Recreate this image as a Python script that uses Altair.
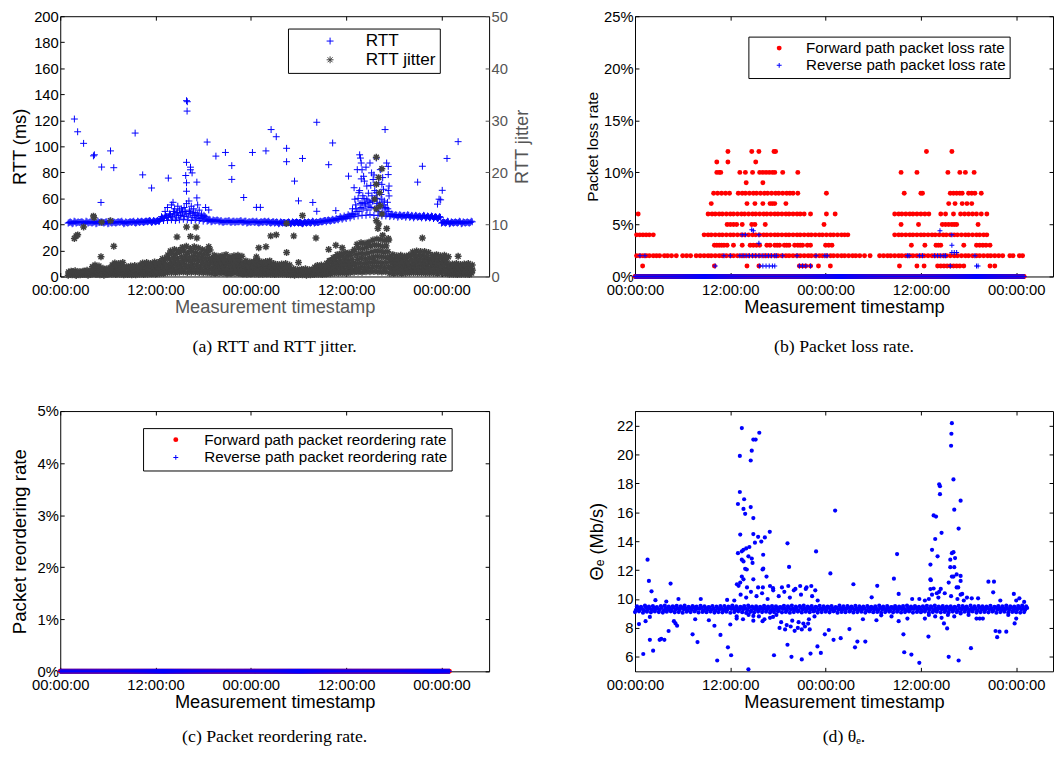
import numpy as np
import pandas as pd
import altair as alt

SANS = "Liberation Sans"
SERIF = "Liberation Serif"
BLUE = "#0000ff"
RED = "#ff0000"
DARK = "#404040"
AXGRAY = "#555555"

TICK_HOURS = [0, 12, 24, 36, 48]
TICK_LABELS = ["00:00:00", "12:00:00", "00:00:00", "12:00:00", "00:00:00"]
X_TITLE = "Measurement timestamp"

# ---------------- (a) RTT and RTT jitter (samples every 0.5 h, interleaved rows) ----------------
RTT_LO = [41, 40.5, 41, 41.5, 40.5, 41, 41, 40.5, 41.5, 41, 40.5, 41, 41, 41.5, 40.5, 41, 41.5, 41,
          41.5, 41.5, 42, 41.5, 42,
          42.5, 43, 43, 43.5, 43, 43.5, 44, 43.5, 43, 43.5, 43, 42.5,
          42.5, 42, 42.5,
          42, 41.5, 42, 41.5, 41.5, 42, 41.5, 41, 41.5, 41.5, 41, 41.5, 41.5, 41,
          41, 40.5, 41, 41, 40.5, 41, 41, 40.5, 41, 41, 41, 41.5,
          42, 42, 42.5, 43,
          43.5, 44, 44.5, 45,
          46, 46.5, 47, 47, 47.5, 47, 47, 46.5, 46.5,
          46, 46, 45.5, 46, 45.5, 45.5, 45, 45.5, 45, 45, 45, 44.5, 44.5,
          41, 41, 40.5, 41, 41, 40.5, 41, 41]
RTT_MA = [41.5, 41, 41.5, 42, 41, 41.5, 41.5, 41, 42, 41.5, 41, 41.5, 41.5, 42, 41, 41.5, 42, 41.5,
          42, 42, 42.5, 42, 42.5,
          44, 45, 45.5, 46, 45, 47, 46, 46.5, 45.5, 45, 44.5, 44,
          43, 42.5, 43,
          42.5, 42, 42.5, 42, 42, 42.5, 42, 41.5, 42, 42, 41.5, 42, 42, 41.5,
          41.5, 41, 41.5, 41.5, 41, 41.5, 41.5, 41, 41.5, 41.5, 41.5, 42,
          42.5, 43, 43, 43.5,
          44.5, 45, 46, 46.5,
          48, 50, 52, 51, 53, 52, 50, 49, 48,
          47, 47, 46.5, 46.5, 46.5, 46, 46, 46, 46, 45.5, 45.5, 45.5, 45,
          41.5, 41.5, 41, 41.5, 41.5, 41, 41.5, 41.5]
RTT_HI = [42, 42.5, 42, 42, 42.5, 42, 42, 42.5, 42, 42, 42.5, 42, 42, 42.5, 42, 42, 42.5, 42.5,
          42.5, 42.5, 43, 43, 43,
          46, 47, 48, 50, 49, 52, 50, 51, 49, 48, 47, 46,
          44, 43.5, 43.5,
          43, 42.5, 43, 42.5, 42.5, 43, 42.5, 42, 42.5, 42.5, 42, 42.5, 42.5, 42,
          42, 42, 41.5, 42, 42, 42, 41.5, 42, 42, 42.5, 42, 42.5,
          43, 43.5, 44, 44.5,
          46, 46.5, 47.5, 48.5,
          52, 56, 60, 58, 62, 60, 57, 55, 52,
          48, 47.5, 47.5, 47, 47.5, 47, 47, 46.5, 47, 46.5, 46.5, 46, 46,
          42, 42.5, 42, 42, 42.5, 42, 42, 42.5]
RTT_MB = [41.5, 42, 41.5, 41.5, 42, 41.5, 42, 41.5, 41.5, 42, 41.5, 41.5, 42, 41.5, 41.5, 42, 41.5, 42,
          42, 42.5, 42.5, 42.5, 42.5,
          45, 46, 47, 48, 47, 49, 48, 48.5, 47, 46.5, 45.5, 45,
          43.5, 43, 43,
          42, 42.5, 42, 42.5, 42, 42, 42.5, 42, 42, 41.5, 42, 42, 41.5, 42,
          41.5, 41.5, 41, 41.5, 41.5, 41.5, 41, 41.5, 41.5, 42, 41.5, 42,
          43, 43, 43.5, 44,
          45, 45.5, 46.5, 47.5,
          50, 53, 56, 54, 58, 56, 54, 52, 50,
          47.5, 47, 47, 47, 47, 46.5, 46.5, 46, 46.5, 46, 46, 45.5, 45.5,
          41.5, 42, 41.5, 41.5, 42, 41.5, 41.5, 42]
RTT_BUMP = [(13.2, 50), (13.5, 53), (13.8, 48), (14.0, 55), (14.2, 57), (14.4, 52), (14.6, 49),
            (14.8, 54), (15.0, 51), (15.2, 47), (15.4, 50), (15.6, 53), (15.9, 56), (16.2, 58),
            (16.3, 50), (16.5, 54), (16.8, 52), (17.0, 49), (17.3, 55), (17.5, 51), (17.8, 48),
            (18.1, 47), (18.3, 53),
            (37.0, 68.2), (37.1, 59.4), (37.4, 82.1), (37.7, 93.5), (37.8, 91), (37.9, 87.2),
            (38.0, 82), (38.2, 77), (38.3, 73.3), (38.6, 69.5), (39.0, 87.2), (39.2, 79.6),
            (39.4, 74.5), (39.8, 91), (40.3, 82.1), (40.5, 70.8), (40.7, 67), (40.9, 112.9),
            (41.1, 87.2), (41.3, 84.6), (41.3, 78.3), (41.4, 69.5), (41.4, 61.9), (40.5, 59.4),
            (38.6, 59.4), (37.6, 64.4), (38.0, 56.9), (39.0, 56.9), (39.8, 64.4),
            (36.8, 52), (37.2, 55), (37.5, 60), (37.7, 66), (38.1, 62), (38.4, 55), (38.8, 64),
            (39.1, 70), (39.3, 58), (39.6, 66), (39.9, 60), (40.2, 55), (40.4, 63), (40.8, 58),
            (41.0, 53), (41.2, 57), (37.9, 75), (38.5, 84), (39.5, 78), (40.1, 72), (40.6, 76),
            (41.3, 66)]
RTT_OUT = [(1.78, 121.0), (2.19, 111.2), (2.94, 102.3), (4.18, 92.7), (4.30, 93.5), (5.13, 56.9),
           (5.21, 84.1), (6.33, 96.5), (6.74, 83.6), (9.43, 110.2), (10.38, 78.1), (11.5, 68.0),
           (13.61, 75.6), (15.9, 135.1), (16.0, 134.3), (15.97, 127.1), (15.9, 87.7), (15.8, 77.6),
           (15.9, 72.0), (15.9, 65.5), (16.4, 82.0), (16.6, 79.6), (16.4, 84.0), (17.2, 72.5),
           (17.2, 60.4), (18.5, 103.3), (18.7, 51.1), (19.6, 92.5), (20.8, 95.3), (21.6, 85.2),
           (21.6, 74.6), (23.1, 60.7), (24.2, 95.3), (24.7, 53.1), (25.2, 53.1), (25.9, 96.5),
           (26.55, 112.9), (27.2, 107.4), (28.5, 98.5), (28.5, 88.2), (29.5, 73.3), (30.0, 58.1),
           (30.5, 90.7), (31.8, 56.9), (32.3, 118.5), (32.3, 50.1), (33.8, 85.9), (34.3, 102.6),
           (34.7, 50.6), (36.3, 77.1), (45.0, 72.5), (45.6, 84.7), (47.5, 55.6), (47.7, 59.4),
           (47.9, 58.9), (48.1, 66.2), (48.7, 90.7), (50.1, 103.6)]

JIT_LO = [0.25, 0.3, 0.2, 0.3, 0.35, 0.25, 0.4, 0.35, 0.3, 0.25, 0.35, 0.4, 0.35, 0.4,
          0.3, 0.35, 0.3, 0.3, 0.4, 0.35, 0.4, 0.45, 0.4, 0.5, 0.55, 0.7, 0.75, 0.7,
          0.8, 0.85, 0.75, 0.8, 0.8, 0.75, 0.7, 0.7, 0.6, 0.55, 0.6, 0.6, 0.5, 0.55, 0.6, 0.55,
          0.45, 0.4, 0.45, 0.45, 0.4, 0.4, 0.45, 0.4, 0.35, 0.4, 0.4, 0.35,
          0.3, 0.25, 0.3, 0.3, 0.25, 0.3, 0.35, 0.4, 0.35,
          0.45, 0.5, 0.6, 0.6, 0.65, 0.6, 0.7, 0.8, 0.85, 0.8, 0.9, 0.9, 0.95, 0.9, 0.85, 0.9,
          0.6, 0.55, 0.6, 0.55, 0.6, 0.65, 0.7, 0.65, 0.65, 0.6, 0.6, 0.6, 0.55, 0.6, 0.55,
          0.4, 0.4, 0.35, 0.4, 0.4, 0.35]
JIT_A = [0.4, 0.45, 0.35, 0.42, 0.5, 0.42, 0.7, 0.62, 0.55, 0.5, 0.58, 0.78, 0.72, 0.8,
         0.6, 0.62, 0.62, 0.6, 0.78, 0.78, 0.75, 0.82, 0.78, 0.95, 1.02, 1.32, 1.4, 1.35,
         1.5, 1.58, 1.42, 1.52, 1.5, 1.4, 1.35, 1.38, 1.15, 1.08, 1.12, 1.15, 1.02, 1.1, 1.15, 1.08,
         0.88, 0.8, 0.85, 0.88, 0.8, 0.82, 0.88, 0.75, 0.7, 0.72, 0.75, 0.68,
         0.52, 0.45, 0.5, 0.52, 0.45, 0.5, 0.65, 0.7, 0.62,
         0.88, 1.0, 1.15, 1.2, 1.25, 1.2, 1.32, 1.6, 1.7, 1.65, 1.75, 1.8, 1.88, 1.82, 1.75, 1.8,
         1.15, 1.1, 1.15, 1.08, 1.15, 1.28, 1.32, 1.28, 1.28, 1.22, 1.15, 1.15, 1.1, 1.15, 1.05,
         0.72, 0.75, 0.68, 0.72, 0.75, 0.65]
JIT_M1 = [0.55, 0.6, 0.5, 0.55, 0.65, 0.6, 1.0, 0.9, 0.8, 0.75, 0.8, 1.15, 1.1, 1.2,
          0.9, 0.9, 0.95, 0.9, 1.15, 1.2, 1.1, 1.2, 1.15, 1.4, 1.5, 1.95, 2.05, 2.0,
          2.2, 2.3, 2.1, 2.25, 2.2, 2.05, 2.0, 2.05, 1.7, 1.6, 1.65, 1.7, 1.55, 1.65, 1.7, 1.6,
          1.3, 1.2, 1.25, 1.3, 1.2, 1.25, 1.3, 1.1, 1.05, 1.05, 1.1, 1.0,
          0.75, 0.65, 0.7, 0.75, 0.65, 0.7, 0.95, 1.0, 0.9,
          1.3, 1.5, 1.7, 1.8, 1.85, 1.8, 1.95, 2.4, 2.55, 2.5, 2.6, 2.7, 2.8, 2.75, 2.65, 2.7,
          1.7, 1.65, 1.7, 1.6, 1.7, 1.9, 1.95, 1.9, 1.9, 1.85, 1.7, 1.7, 1.65, 1.7, 1.55,
          1.05, 1.1, 1.0, 1.05, 1.1, 0.95]
JIT_B = [0.62, 0.68, 0.55, 0.62, 0.72, 0.68, 1.25, 1.15, 0.95, 0.88, 0.98, 1.48, 1.4, 1.52,
         1.1, 1.12, 1.2, 1.1, 1.48, 1.52, 1.4, 1.55, 1.5, 1.85, 1.98, 2.65, 2.8, 2.7,
         3.0, 3.12, 2.88, 3.08, 2.98, 2.8, 2.7, 2.75, 2.25, 2.12, 2.18, 2.28, 2.08, 2.18, 2.25, 2.12,
         1.68, 1.55, 1.62, 1.7, 1.55, 1.62, 1.68, 1.4, 1.3, 1.35, 1.4, 1.25,
         0.88, 0.78, 0.82, 0.88, 0.78, 0.82, 1.2, 1.25, 1.12,
         1.68, 1.98, 2.28, 2.4, 2.5, 2.42, 2.6, 3.3, 3.48, 3.42, 3.55, 3.72, 3.85, 3.8, 3.68, 3.72,
         2.28, 2.18, 2.25, 2.12, 2.25, 2.55, 2.65, 2.58, 2.58, 2.5, 2.25, 2.28, 2.18, 2.25, 2.08,
         1.35, 1.4, 1.28, 1.35, 1.4, 1.22]
JIT_M2 = [0.7, 0.75, 0.6, 0.7, 0.8, 0.75, 1.5, 1.4, 1.1, 1.0, 1.15, 1.8, 1.7, 1.85,
          1.3, 1.35, 1.45, 1.3, 1.8, 1.85, 1.7, 1.9, 1.85, 2.3, 2.45, 3.35, 3.55, 3.4,
          3.8, 3.95, 3.65, 3.9, 3.75, 3.55, 3.4, 3.45, 2.8, 2.65, 2.7, 2.85, 2.6, 2.7, 2.8, 2.65,
          2.05, 1.9, 2.0, 2.1, 1.9, 2.0, 2.05, 1.7, 1.55, 1.65, 1.7, 1.5,
          1.0, 0.9, 0.95, 1.0, 0.9, 0.95, 1.45, 1.5, 1.35,
          2.05, 2.45, 2.85, 3.0, 3.15, 3.05, 3.25, 4.2, 4.4, 4.35, 4.5, 4.75, 4.9, 4.85, 4.7, 4.75,
          2.85, 2.7, 2.8, 2.65, 2.8, 3.2, 3.35, 3.25, 3.25, 3.15, 2.8, 2.85, 2.7, 2.8, 2.6,
          1.65, 1.7, 1.55, 1.65, 1.7, 1.5]
JIT_C = [0.85, 0.92, 0.75, 0.85, 1.0, 0.92, 1.85, 1.7, 1.35, 1.25, 1.42, 2.2, 2.1, 2.28,
         1.6, 1.68, 1.78, 1.6, 2.2, 2.28, 2.1, 2.35, 2.28, 2.85, 3.02, 4.12, 4.38, 4.2,
         4.7, 4.88, 4.52, 4.8, 4.62, 4.38, 4.2, 4.28, 3.45, 3.28, 3.35, 3.52, 3.2, 3.35, 3.45, 3.28,
         2.52, 2.35, 2.45, 2.6, 2.35, 2.45, 2.52, 2.1, 1.92, 2.02, 2.1, 1.85,
         1.25, 1.1, 1.18, 1.25, 1.1, 1.18, 1.78, 1.85, 1.68,
         2.52, 3.02, 3.52, 3.7, 3.88, 3.78, 4.02, 5.2, 5.45, 5.38, 5.55, 5.88, 6.05, 5.98, 5.8, 5.88,
         3.52, 3.35, 3.45, 3.28, 3.45, 3.95, 4.12, 4.02, 4.02, 3.88, 3.45, 3.52, 3.35, 3.45, 3.2,
         2.02, 2.1, 1.92, 2.02, 2.1, 1.85]
JIT_HI = [1.0, 1.1, 0.9, 1.0, 1.2, 1.1, 2.2, 2.0, 1.6, 1.5, 1.7, 2.6, 2.5, 2.7,
          1.9, 2.0, 2.1, 1.9, 2.6, 2.7, 2.5, 2.8, 2.7, 3.4, 3.6, 4.9, 5.2, 5.0,
          5.6, 5.8, 5.4, 5.7, 5.5, 5.2, 5.0, 5.1, 4.1, 3.9, 4.0, 4.2, 3.8, 4.0, 4.1, 3.9,
          3.0, 2.8, 2.9, 3.1, 2.8, 2.9, 3.0, 2.5, 2.3, 2.4, 2.5, 2.2,
          1.5, 1.3, 1.4, 1.5, 1.3, 1.4, 2.1, 2.2, 2.0,
          3.0, 3.6, 4.2, 4.4, 4.6, 4.5, 4.8, 6.2, 6.5, 6.4, 6.6, 7.0, 7.2, 7.1, 6.9, 7.0,
          4.2, 4.0, 4.1, 3.9, 4.1, 4.7, 4.9, 4.8, 4.8, 4.6, 4.1, 4.2, 4.0, 4.1, 3.8,
          2.4, 2.5, 2.3, 2.4, 2.5, 2.2]
JIT_OUT = [(1.78, 7.3), (2.0, 7.8), (2.2, 8.0), (2.94, 9.5), (4.18, 11.6), (4.26, 11.3),
           (5.13, 3.8), (5.21, 10.4), (6.33, 10.7), (6.74, 5.8), (14.7, 7.6), (15.9, 9.5),
           (16.4, 7.7), (17.2, 7.4), (17.1, 9.5), (18.7, 5.7), (24.7, 3.75), (25.0, 5.5),
           (25.9, 5.7), (26.5, 7.8), (27.2, 8.0), (28.5, 4.6), (28.5, 10.2), (29.4, 7.8),
           (30.0, 2.7), (30.5, 11.7), (32.2, 7.4), (33.8, 5.2), (34.7, 6.0), (35.5, 5.5),
           (39.8, 22.9), (40.5, 20.7), (40.1, 19.0), (39.8, 17.7), (40.2, 16.1), (39.6, 14.9),
           (40.3, 13.6), (39.8, 13.0), (40.5, 12.0), (39.8, 10.7), (40.1, 10.1), (40.0, 9.2),
           (41.1, 9.2), (41.3, 7.3), (40.6, 7.9), (45.6, 7.4), (50.1, 3.9)]

# ---------------- (b) packet loss rate (%) ----------------
FWD_1 = [0.96, 10.0, 14.1, 15.6, 20.7, 21.1, 21.5, 22.1, 23.1, 24.6, 33.3, 35.5, 36.4, 38.1,
         38.5, 38.9, 39.3, 39.7, 40.1, 40.5, 40.9, 41.4, 44.7, 45.3]
FWD_2 = [0.2, 0.6, 1.0, 1.4, 1.8, 2.3, 2.7, 3.1, 3.7, 4.1, 4.6, 5.2, 6.0, 6.5, 7.0,
         7.7, 8.2, 8.7, 9.2, 9.6, 10.1, 10.6, 11.0, 11.5, 12.0, 12.4, 12.9, 13.4, 13.8, 14.3,
         14.8, 15.2, 15.7, 16.2, 16.6, 17.1, 17.6, 18.0, 18.5, 19.0, 19.4, 19.9, 20.4, 20.8,
         21.3, 21.8, 22.2, 22.7, 23.2, 23.6, 24.1, 24.6, 25.0, 25.5, 26.0, 26.4, 26.9, 27.4,
         27.8, 28.3, 28.9, 29.6, 30.8, 31.3, 31.8, 32.2, 32.7, 33.2, 33.6, 34.1, 34.6, 35.0,
         35.5, 36.0, 36.4, 36.9, 37.4, 37.8, 38.3, 38.8, 39.2, 39.7, 40.2, 40.6, 41.1, 41.6,
         42.0, 42.5, 43.0, 43.4, 43.9, 44.4, 44.8, 45.3, 45.8, 46.3, 47.2, 47.6, 48.4, 48.8]
FWD_3 = [10.0, 10.3, 10.6, 10.9, 11.2, 11.6, 12.4, 13.5, 14.5, 14.9, 15.3, 15.7, 16.6, 17.0,
         17.6, 17.9, 18.2, 18.8, 19.1, 19.4, 20.1, 20.5, 20.8, 21.1, 21.7, 22.1, 24.0, 24.4,
         24.8, 34.8, 36.5, 37.9, 38.2, 38.5, 41.4, 43.0, 43.4, 43.8, 44.2, 44.7]
FWD_4 = [0.2, 0.6, 1.0, 1.4, 1.8, 2.3, 8.7, 9.2, 9.6, 10.1, 10.6, 11.0, 11.5, 12.0, 12.4, 12.9,
         13.4, 13.8, 14.3, 14.8, 15.2, 15.7, 16.2, 16.6, 17.1, 17.6, 18.0, 18.5, 19.0, 19.4,
         19.9, 20.4, 20.8, 21.3, 21.8, 22.2, 22.7, 23.2, 23.6, 24.1, 24.6, 25.0, 25.5, 26.0,
         26.4, 26.8, 32.7, 33.2, 33.6, 34.1, 34.6, 35.0, 35.5, 36.0, 36.4, 36.9, 37.4, 37.8,
         38.3, 38.8, 39.2, 39.7, 40.2, 40.6, 41.1, 41.6, 42.0, 42.5, 43.0, 43.4, 43.9, 44.3]
FWD_5 = [11.6, 12.0, 12.4, 12.8, 13.5, 14.7, 15.1, 16.4, 23.8, 33.5, 35.7, 38.7, 39.1, 39.5,
         39.9, 40.2, 40.5, 43.2]
FWD_6 = [0.4, 9.2, 9.7, 10.1, 10.6, 11.0, 11.5, 12.0, 12.4, 12.9, 13.4, 13.8, 14.3, 14.8, 15.2,
         15.7, 16.2, 16.6, 17.1, 17.6, 18.0, 18.5, 19.0, 19.4, 19.9, 20.4, 20.8, 21.3, 22.1,
         24.1, 25.2, 32.7, 33.2, 33.6, 34.1, 34.6, 35.0, 35.5, 36.0, 36.5, 37.0, 38.5, 39.1,
         40.1, 41.0, 41.5, 42.0, 42.5, 43.0, 43.6, 44.3]
FWD_7 = [9.6, 14.1, 15.1, 16.1, 17.0, 17.3, 17.6, 19.0, 39.5, 40.3, 41.2, 41.8, 42.4]
FWD_8 = [9.9, 10.4, 10.9, 11.4, 11.9, 13.0, 13.5, 13.9, 14.4, 14.9, 15.3, 15.8, 16.3, 16.7,
         17.2, 17.7, 18.1, 18.6, 19.1, 19.5, 19.9, 20.5, 24.1, 33.9, 36.0, 36.2, 39.7, 40.1,
         40.5, 40.9, 41.2, 42.0, 42.4, 42.8, 43.6]
FWD_9 = [14.0, 16.1]
FWD_10 = [10.3, 10.6, 10.8, 13.2, 13.9, 14.8, 15.7, 16.1, 16.5, 16.9, 17.3, 17.6, 18.6, 20.5,
          33.5, 35.5, 39.4, 40.9, 41.6, 42.7]
FWD_11 = [10.3, 11.7, 15.2]
FWD_12 = [11.7, 14.7, 15.6, 17.5, 17.7, 36.7, 39.9]
REV_NONZERO = [(10.1, 1), (15.7, 1), (16.1, 1), (16.5, 1), (16.9, 1), (17.3, 1), (17.6, 1),
               (20.7, 1), (21.1, 1), (21.5, 1), (22.1, 1), (39.7, 1), (43.0, 1), (43.2, 1),
               (0.63, 2), (1.25, 2), (11.2, 2), (12.0, 2), (13.2, 2), (13.6, 2), (14.0, 2),
               (14.4, 2), (14.8, 2), (15.2, 2), (15.6, 2), (16.0, 2), (16.4, 2), (16.8, 2),
               (17.2, 2), (17.6, 2), (17.8, 2), (18.6, 2), (20.4, 2), (22.8, 2), (23.9, 2),
               (24.2, 2), (34.3, 2), (34.5, 2), (35.8, 2), (36.2, 2), (37.7, 2), (38.1, 2),
               (38.5, 2), (38.9, 2), (39.1, 2), (42.8, 2), (39.9, 2.3), (40.2, 2.3), (40.5, 2.3),
               (15.6, 3.2), (39.9, 3.0), (13.5, 4.0), (13.9, 4.0), (15.6, 4.0), (39.9, 4.0),
               (14.7, 4.5), (14.9, 4.4), (38.4, 4.4)]
LOSS_END_H = 49.0          # last measurement; all other samples are 0 %

# ---------------- (c) packet reordering rate (%) ----------------
REORD_END_H = 49.0         # every reordering sample is 0 %

# ---------------- (d) theta_e (Mb/s), samples every 0.5 h, 4 interleaved rows ----------------
THETA_LO = [9.10, 9.15, 9.05, 9.12, 9.08, 9.14, 9.10, 9.06, 9.12, 9.15, 9.08,
            9.10, 9.05, 9.12, 9.10, 9.14, 9.07, 9.11, 9.09, 9.13, 9.06, 9.10,
            9.08, 9.12, 9.05, 9.10, 9.15, 9.09, 9.04, 9.11, 9.07, 9.13, 9.10,
            9.12, 9.06, 9.10, 9.14, 9.08, 9.11, 9.05, 9.10, 9.13, 9.07, 9.12,
            9.09, 9.14, 9.06, 9.10, 9.12, 9.08, 9.15, 9.05, 9.11, 9.09, 9.13,
            9.07, 9.10, 9.12, 9.06, 9.14, 9.09, 9.11, 9.05, 9.10, 9.13, 9.08,
            9.12, 9.07, 9.10, 9.14, 9.06, 9.11, 9.09, 9.13, 9.05, 9.10, 9.12,
            9.08, 9.11, 9.06, 9.13, 9.10, 9.07, 9.12, 9.09, 9.14, 9.06, 9.10,
            9.11, 9.08, 9.13, 9.05, 9.10, 9.12, 9.07, 9.11, 9.09, 9.06, 9.10]
THETA_MA = [9.25, 9.30, 9.22, 9.28, 9.24, 9.31, 9.26, 9.20, 9.29, 9.23, 9.27,
            9.24, 9.30, 9.21, 9.27, 9.25, 9.32, 9.22, 9.28, 9.26, 9.20, 9.29,
            9.23, 9.27, 9.31, 9.22, 9.26, 9.29, 9.24, 9.20, 9.28, 9.25, 9.30,
            9.26, 9.21, 9.29, 9.24, 9.31, 9.23, 9.27, 9.25, 9.20, 9.28, 9.24,
            9.29, 9.22, 9.26, 9.30, 9.24, 9.27, 9.21, 9.28, 9.25, 9.31, 9.23,
            9.27, 9.24, 9.30, 9.21, 9.26, 9.29, 9.23, 9.28, 9.25, 9.22, 9.30,
            9.24, 9.28, 9.22, 9.27, 9.31, 9.25, 9.20, 9.29, 9.26, 9.23, 9.28,
            9.30, 9.23, 9.27, 9.25, 9.21, 9.29, 9.26, 9.24, 9.31, 9.22, 9.27,
            9.25, 9.29, 9.22, 9.28, 9.24, 9.30, 9.26, 9.21, 9.27, 9.29, 9.25]
THETA_HI = [9.50, 9.46, 9.54, 9.48, 9.52, 9.45, 9.51, 9.55, 9.47, 9.50, 9.53,
            9.49, 9.54, 9.46, 9.51, 9.48, 9.53, 9.50, 9.45, 9.52, 9.47, 9.51,
            9.52, 9.47, 9.55, 9.49, 9.46, 9.51, 9.54, 9.48, 9.50, 9.46, 9.53,
            9.48, 9.52, 9.50, 9.45, 9.53, 9.49, 9.55, 9.47, 9.51, 9.54, 9.48,
            9.51, 9.46, 9.53, 9.50, 9.48, 9.52, 9.45, 9.54, 9.49, 9.51, 9.47,
            9.53, 9.49, 9.47, 9.52, 9.46, 9.50, 9.54, 9.48, 9.51, 9.45, 9.52,
            9.47, 9.51, 9.54, 9.48, 9.52, 9.46, 9.50, 9.53, 9.49, 9.55, 9.48,
            9.52, 9.48, 9.50, 9.46, 9.53, 9.51, 9.47, 9.54, 9.49, 9.52, 9.50,
            9.48, 9.53, 9.46, 9.51, 9.49, 9.55, 9.50, 9.47, 9.52, 9.54, 9.50]
THETA_MB = [9.38, 9.34, 9.41, 9.36, 9.39, 9.33, 9.40, 9.37, 9.35, 9.42, 9.36,
            9.40, 9.35, 9.38, 9.43, 9.34, 9.39, 9.36, 9.41, 9.33, 9.38, 9.37,
            9.35, 9.41, 9.37, 9.34, 9.40, 9.36, 9.42, 9.38, 9.33, 9.39, 9.36,
            9.39, 9.34, 9.37, 9.42, 9.35, 9.40, 9.33, 9.38, 9.41, 9.36, 9.39,
            9.36, 9.40, 9.34, 9.38, 9.42, 9.35, 9.39, 9.37, 9.33, 9.41, 9.38,
            9.34, 9.39, 9.36, 9.41, 9.37, 9.33, 9.40, 9.35, 9.38, 9.42, 9.36,
            9.40, 9.35, 9.38, 9.34, 9.41, 9.37, 9.39, 9.33, 9.42, 9.36, 9.38,
            9.37, 9.41, 9.34, 9.39, 9.36, 9.40, 9.35, 9.38, 9.33, 9.41, 9.37,
            9.39, 9.36, 9.42, 9.35, 9.38, 9.34, 9.40, 9.37, 9.41, 9.35, 9.38]
THETA_SPREAD = [(12.5, 9.9), (12.8, 8.8), (13.3, 10.3), (13.6, 8.6), (14.0, 10.1), (14.3, 8.9),
                (14.6, 10.5), (14.9, 8.5), (15.3, 10.2), (15.6, 8.8), (16.0, 10.4), (16.3, 8.6),
                (16.7, 10.0), (17.0, 8.7), (17.4, 10.6), (17.8, 8.9), (18.1, 10.2), (18.4, 8.4),
                (18.8, 10.5), (19.1, 8.2), (19.5, 10.1), (19.8, 8.5), (20.2, 10.7), (20.5, 8.0),
                (20.9, 10.3), (21.2, 8.3), (21.6, 10.8), (21.9, 8.6), (22.3, 10.2), (22.6, 8.8),
                (23.0, 9.9), (18.2, 8.0), (18.9, 7.9), (19.6, 8.1), (20.1, 7.8), (20.6, 8.4),
                (21.0, 7.9), (21.4, 8.1), (21.8, 8.3), (22.0, 7.9), (18.5, 10.8), (19.3, 10.9),
                (20.0, 10.6), (20.8, 10.9), (21.5, 10.7), (22.2, 10.9), (22.7, 10.6),
                (36.5, 9.9), (37.0, 8.9), (37.4, 10.3), (37.8, 8.8), (38.2, 10.1), (38.6, 8.7),
                (39.0, 10.4), (39.4, 8.9), (39.8, 10.2), (40.2, 8.8), (40.6, 10.0), (41.0, 9.0),
                (41.4, 9.9), (42.0, 8.9), (46.0, 9.9), (47.0, 8.9), (48.0, 9.9), (49.0, 9.8)]
THETA_OUT = [(0.5, 8.27), (1.04, 6.2), (1.33, 8.47), (1.58, 12.72), (1.75, 11.25), (1.87, 7.18),
             (2.08, 10.53), (2.28, 6.43), (1.87, 8.76), (2.57, 9.92), (3.1, 7.18), (3.3, 7.25),
             (3.7, 7.18), (3.94, 9.83), (4.23, 7.79), (4.48, 11.07), (4.9, 8.47), (5.1, 8.31),
             (5.3, 8.15), (5.47, 10.0), (7.25, 7.56), (7.58, 8.6), (7.87, 7.02), (8.28, 10.0),
             (9.3, 8.53), (10.0, 8.15), (10.35, 5.75), (10.76, 7.52), (11.6, 9.94), (11.7, 6.66),
             (12.0, 8.24), (12.1, 6.11),
             (13.45, 21.82), (13.2, 19.9), (12.96, 16.57), (13.2, 17.4), (13.66, 16.23),
             (13.74, 16.9), (13.87, 15.89), (14.57, 16.36), (14.9, 15.6), (13.25, 14.46),
             (14.9, 14.49), (15.1, 13.9), (15.5, 14.3), (15.9, 13.97), (16.35, 14.26),
             (16.97, 14.65), (16.14, 13.06), (14.28, 12.95), (13.45, 13.3), (13.66, 13.4),
             (14.0, 13.5), (14.4, 13.6), (12.96, 13.17), (13.45, 12.72), (13.66, 12.6),
             (14.7, 12.8), (14.8, 12.5), (13.87, 12.09), (14.07, 12.04), (14.9, 11.36),
             (16.06, 12.04), (16.15, 12.1), (16.56, 11.55), (13.45, 11.55), (13.66, 11.36),
             (13.25, 11.14), (13.04, 10.91), (12.83, 11.02), (14.7, 20.26), (14.57, 19.58),
             (14.9, 21.03), (15.19, 21.03), (15.65, 21.5), (17.38, 10.75), (17.0, 10.9),
             (16.1, 10.8), (15.5, 10.8), (14.1, 10.8),
             (12.8, 8.65), (14.9, 8.83), (16.06, 8.47), (17.38, 8.76), (19.2, 6.84), (19.7, 6.0),
             (17.5, 6.11), (14.28, 5.14), (19.2, 13.85), (19.4, 12.22), (21.0, 5.82), (22.1, 6.23),
             (22.8, 13.29), (22.97, 6.72), (23.4, 6.27), (23.9, 7.56), (24.4, 7.86), (24.6, 11.77),
             (25.0, 7.18), (25.2, 16.12), (25.9, 7.29),
             (27.0, 7.92), (27.5, 11.02), (27.7, 6.66), (28.0, 7.06), (28.7, 8.6), (29.0, 7.06),
             (29.8, 10.12), (30.4, 8.53), (30.5, 10.91), (31.0, 8.87), (32.3, 8.8), (32.6, 11.41),
             (33.0, 13.11), (33.2, 10.35), (33.2, 8.47), (33.8, 7.56), (33.9, 6.32), (34.3, 8.65),
             (34.8, 6.16), (34.9, 10.0), (35.8, 5.59), (35.8, 10.0), (36.5, 8.65), (36.95, 7.4),
             (37.0, 10.0), (37.2, 10.69), (37.6, 10.73), (37.2, 11.36), (37.25, 11.3),
             (37.2, 12.38), (37.4, 13.4), (37.6, 15.78), (37.9, 15.7), (37.8, 14.15),
             (38.1, 12.95), (38.3, 17.93), (38.4, 17.8), (38.4, 17.25), (38.6, 14.58),
             (38.5, 10.7), (38.3, 10.5), (38.0, 10.4), (38.9, 8.31), (39.3, 7.97), (39.5, 6.0),
             (39.9, 22.16), (39.84, 21.43), (39.8, 20.6), (40.1, 18.27), (40.2, 16.18),
             (40.75, 14.87), (41.0, 16.8), (39.9, 13.17), (40.1, 13.24), (39.7, 12.72),
             (40.3, 12.83), (39.7, 12.2), (40.2, 12.2), (39.9, 11.55), (40.1, 11.55),
             (39.5, 11.14), (40.5, 11.7), (41.0, 11.6), (41.0, 11.25), (40.5, 10.8), (40.7, 10.8),
             (41.2, 10.35), (41.0, 10.3), (40.75, 5.75), (42.3, 6.6), (43.2, 10.05), (42.4, 10.05),
             (41.8, 10.1), (43.0, 8.65), (43.4, 8.65), (43.8, 8.65), (44.5, 11.2), (45.2, 11.2),
             (45.1, 10.46), (45.4, 7.79), (45.6, 7.36), (45.9, 7.74), (46.75, 7.74),
             (47.7, 10.35), (47.8, 8.31), (48.0, 8.65), (48.4, 10.05)]

# ---------------- layout / style ----------------
W_LEFT, W_RIGHT, H = 435, 424, 264
X_MAX_LEFT = 54.0
X_MAX_RIGHT = 54.0 * W_RIGHT / W_LEFT
TICK_LEN = 4

PLUS_PATH = "M-1,0L1,0M0,-1L0,1"
ASTER_PATH = "M-1,0L1,0M0,-1L0,1M-0.72,-0.72L0.72,0.72M-0.72,0.72L0.72,-0.72"
PLUS_POLY = ("M-1,-0.2L-0.2,-0.2L-0.2,-1L0.2,-1L0.2,-0.2L1,-0.2L1,0.2L0.2,0.2"
             "L0.2,1L-0.2,1L-0.2,0.2L-1,0.2Z")

LABEL_EXPR = " : ".join(
    f"datum.value == {h} ? '{s}'" for h, s in zip(TICK_HOURS, TICK_LABELS)) + " : ''"


def frame(rows):
    return pd.DataFrame(rows, columns=["h", "v", "series"])


def pairs(points, name):
    return [(h, v, name) for h, v in points]


def series(hours, values, name):
    n = min(len(hours), len(values))
    return [(float(hours[i]), float(values[i]), name) for i in range(n)]


def x_scale(xmax):
    return alt.Scale(domain=[0, xmax], nice=False, zero=False)


def x_enc(xmax, title_color="black", show=True):
    if not show:
        return alt.X("h:Q", scale=x_scale(xmax), axis=None)
    return alt.X("h:Q", scale=x_scale(xmax),
                 axis=alt.Axis(values=TICK_HOURS, labelExpr=LABEL_EXPR, title=X_TITLE,
                               titleColor=title_color, grid=False, ticks=True,
                               tickSize=TICK_LEN, offset=-TICK_LEN, tickColor="black",
                               domain=False, labelFlush=False, labelOverlap=False,
                               labelPadding=6, titlePadding=1, labelFontSize=15,
                               titleFontSize=18.5))


def y_axis(values, title, title_size, title_pad, expr=None, orient="left", color="black",
           angle=None, baseline=None):
    kw = dict(values=values, title=title, orient=orient, grid=False, ticks=True,
              tickSize=TICK_LEN, offset=-TICK_LEN, tickColor=color,
              domain=False, labelFlush=False, labelOverlap=False, labelPadding=2,
              labelFontSize=15, titleFontSize=title_size, titlePadding=title_pad,
              labelColor=color, titleColor=color)
    if expr:
        kw["labelExpr"] = expr
    if angle is not None:
        kw["titleAngle"] = angle
    if baseline is not None:
        kw["titleBaseline"] = baseline
    return alt.Axis(**kw)


def mirror_axis(orient, values):
    return alt.Axis(orient=orient, values=values, labels=False, title=None, grid=False,
                    ticks=True, tickSize=TICK_LEN, offset=-TICK_LEN, tickColor="black",
                    domain=False)


def tick_layer(df, xmax, ydomain=None, yvalues=None):
    enc = {"x": alt.X("h:Q", scale=x_scale(xmax), axis=mirror_axis("top", TICK_HOURS))}
    if ydomain is not None:
        enc["y"] = alt.Y("v:Q", scale=alt.Scale(domain=ydomain, nice=False),
                         axis=mirror_axis("right", yvalues))
    return alt.Chart(df).transform_filter("datum.h < 0").mark_point(opacity=0).encode(**enc)


def caption(text, offset):
    return alt.TitleParams(text=text, orient="bottom", anchor="middle", frame="group",
                           font=SERIF, fontSize=18, fontWeight="normal", color="black",
                           offset=offset)


def legend(x, y, font_size, sym_size, sym_stroke, sym_offset, lab_offset, row_pad, pad):
    return alt.Legend(title=None, orient="none", legendX=x, legendY=y, direction="vertical",
                      labelFont=SANS, labelFontSize=font_size, labelColor="black",
                      symbolSize=sym_size, symbolStrokeWidth=sym_stroke,
                      symbolOffset=sym_offset, labelOffset=lab_offset, rowPadding=row_pad,
                      padding=pad, strokeColor="black", fillColor="white", labelLimit=500)


# ---------------- panel (a) ----------------
A_SERIES = ["RTT", "RTT jitter"]
hA = np.arange(1.0, 51.51, 0.5)
rtt_rows = (series(hA, RTT_LO, "RTT") + series(hA + 0.125, RTT_MA, "RTT")
            + series(hA + 0.25, RTT_HI, "RTT") + series(hA + 0.375, RTT_MB, "RTT")
            + pairs(RTT_BUMP, "RTT") + pairs(RTT_OUT, "RTT"))
jit_rows = []
for off, vals in [(0.0, JIT_LO), (0.3, JIT_A), (0.125, JIT_M1), (0.42, JIT_B),
                  (0.25, JIT_M2), (0.05, JIT_C), (0.375, JIT_HI)]:
    jit_rows += series(hA + off, vals, "RTT jitter")
jit_rows += pairs(JIT_OUT, "RTT jitter")
rtt_df, jit_df = frame(rtt_rows), frame(jit_rows)
leg_a = legend(231, 12.5, 17.4, 49, 1, 30, 27.4, 0, 4)
a_color = alt.Color("series:N", scale=alt.Scale(domain=A_SERIES, range=[BLUE, DARK]), legend=leg_a)
a_shape = alt.Shape("series:N", scale=alt.Scale(domain=A_SERIES, range=[PLUS_PATH, ASTER_PATH]),
                    legend=leg_a)
rtt_layer = alt.Chart(rtt_df).mark_point(
    filled=False, size=49, strokeWidth=1, opacity=1).encode(
    x=x_enc(X_MAX_LEFT, AXGRAY),
    y=alt.Y("v:Q", scale=alt.Scale(domain=[0, 200], nice=False),
            axis=y_axis(list(range(0, 201, 20)), "RTT (ms)", 18.5, 4)),
    color=a_color, shape=a_shape)
jit_layer = alt.Chart(jit_df).mark_point(
    filled=False, size=49, strokeWidth=1.5, opacity=1).encode(
    x=x_enc(X_MAX_LEFT, show=False),
    y=alt.Y("v:Q", scale=alt.Scale(domain=[0, 50], nice=False),
            axis=y_axis(list(range(0, 51, 10)), "RTT jitter", 18.5, 5, orient="right",
                        color=AXGRAY, angle=270, baseline="top")),
    color=a_color, shape=a_shape)
panel_a = alt.layer(rtt_layer, jit_layer, tick_layer(rtt_df, X_MAX_LEFT)).resolve_scale(
    y="independent").resolve_axis(x="independent").properties(
    width=W_LEFT, height=H, title=caption("(a) RTT and RTT jitter.", 22))

# ---------------- panel (b) ----------------
B_SERIES = ["Forward path packet loss rate", "Reverse path packet loss rate"]
zero_h = np.arange(0.0, LOSS_END_H + 0.001, 0.125)
fwd_levels = [(1, FWD_1), (2, FWD_2), (3, FWD_3), (4, FWD_4), (5, FWD_5), (6, FWD_6),
              (7, FWD_7), (8, FWD_8), (9, FWD_9), (10, FWD_10), (11, FWD_11), (12, FWD_12)]
b_rows = [(float(h), 0.0, B_SERIES[0]) for h in zero_h]
for lvl, hours in fwd_levels:
    b_rows += [(h, float(lvl), B_SERIES[0]) for h in hours]
b_rows += [(float(h), 0.0, B_SERIES[1]) for h in zero_h]
b_rows += pairs(REV_NONZERO, B_SERIES[1])
b_df = frame(b_rows)
leg_b = legend(115, 20.7, 15.3, 25, 0, 19.6, 19.6, 1.5, 4)
main_b = alt.Chart(b_df).mark_point(filled=True, size=25, opacity=1, strokeWidth=0).encode(
    x=x_enc(X_MAX_RIGHT),
    y=alt.Y("v:Q", scale=alt.Scale(domain=[0, 25], nice=False),
            axis=y_axis(list(range(0, 26, 5)), "Packet loss rate", 15.7, 3,
                        expr="datum.value + '%'")),
    color=alt.Color("series:N", scale=alt.Scale(domain=B_SERIES, range=[RED, BLUE]), legend=leg_b),
    shape=alt.Shape("series:N", scale=alt.Scale(domain=B_SERIES, range=["circle", PLUS_POLY]),
                    legend=leg_b),
)
panel_b = alt.layer(main_b, tick_layer(b_df, X_MAX_RIGHT, [0, 25], list(range(0, 26, 5)))
                    ).resolve_axis(x="independent", y="independent").properties(
    width=W_RIGHT, height=H, title=caption("(b) Packet loss rate.", 22))

# ---------------- panel (c) ----------------
C_SERIES = ["Forward path packet reordering rate", "Reverse path packet reordering rate"]
zero_c = np.arange(0.0, REORD_END_H + 0.001, 0.125)
c_rows = [(float(h), 0.0, C_SERIES[0]) for h in zero_c] + \
         [(float(h), 0.0, C_SERIES[1]) for h in zero_c]
c_df = frame(c_rows)
leg_c = legend(84, 17.3, 15.4, 25, 0, 21.5, 21.2, 1.0, 4)
main_c = alt.Chart(c_df).mark_point(filled=True, size=25, opacity=1, strokeWidth=0).encode(
    x=x_enc(X_MAX_LEFT),
    y=alt.Y("v:Q", scale=alt.Scale(domain=[0, 5], nice=False),
            axis=y_axis(list(range(0, 6)), "Packet reordering rate", 19, 8,
                        expr="datum.value + '%'")),
    color=alt.Color("series:N", scale=alt.Scale(domain=C_SERIES, range=[RED, BLUE]), legend=leg_c),
    shape=alt.Shape("series:N", scale=alt.Scale(domain=C_SERIES, range=["circle", PLUS_POLY]),
                    legend=leg_c),
)
panel_c = alt.layer(main_c, tick_layer(c_df, X_MAX_LEFT, [0, 5], list(range(0, 6)))
                    ).resolve_axis(x="independent", y="independent").properties(
    width=W_LEFT, height=H, title=caption("(c) Packet reordering rate.", 17))

# ---------------- panel (d) ----------------
hD = np.arange(0.0, 49.01, 0.5)
d_rows = (series(hD, THETA_LO, "theta") + series(hD + 0.125, THETA_MA, "theta")
          + series(hD + 0.25, THETA_HI, "theta") + series(hD + 0.375, THETA_MB, "theta")
          + pairs(THETA_SPREAD, "theta") + pairs(THETA_OUT, "theta"))
d_df = frame(d_rows)
main_d = alt.Chart(d_df).mark_point(
    filled=True, shape="circle", size=18, opacity=1, color=BLUE, strokeWidth=0).encode(
    x=x_enc(X_MAX_RIGHT),
    y=alt.Y("v:Q", scale=alt.Scale(domain=[5, 23], nice=False),
            axis=y_axis(list(range(6, 23, 2)), "\u0398\u2091 (Mb/s)", 18.5, 10)),
)
panel_d = alt.layer(main_d, tick_layer(d_df, X_MAX_RIGHT, [5, 23], list(range(6, 23, 2)))
                    ).resolve_axis(x="independent", y="independent").properties(
    width=W_RIGHT, height=H, title=caption("(d) \u03b8\u2091.", 17))

chart = alt.concat(
    panel_a, panel_b, panel_c, panel_d, columns=2,
    spacing={"row": 136.5, "column": 148}, bounds="flush"
).resolve_scale(
    color="independent", shape="independent"
).resolve_legend(
    color="independent", shape="independent"
).properties(
    padding={"left": 1, "top": -5, "right": 0, "bottom": 0}
).configure(font=SANS).configure_view(
    stroke="black", strokeWidth=1
).configure_axis(
    labelFont=SANS, titleFont=SANS, titleFontWeight="normal"
).configure_title(font=SERIF, fontWeight="normal")

chart.save("out.html", embed_options={"renderer": "svg", "actions": False})
